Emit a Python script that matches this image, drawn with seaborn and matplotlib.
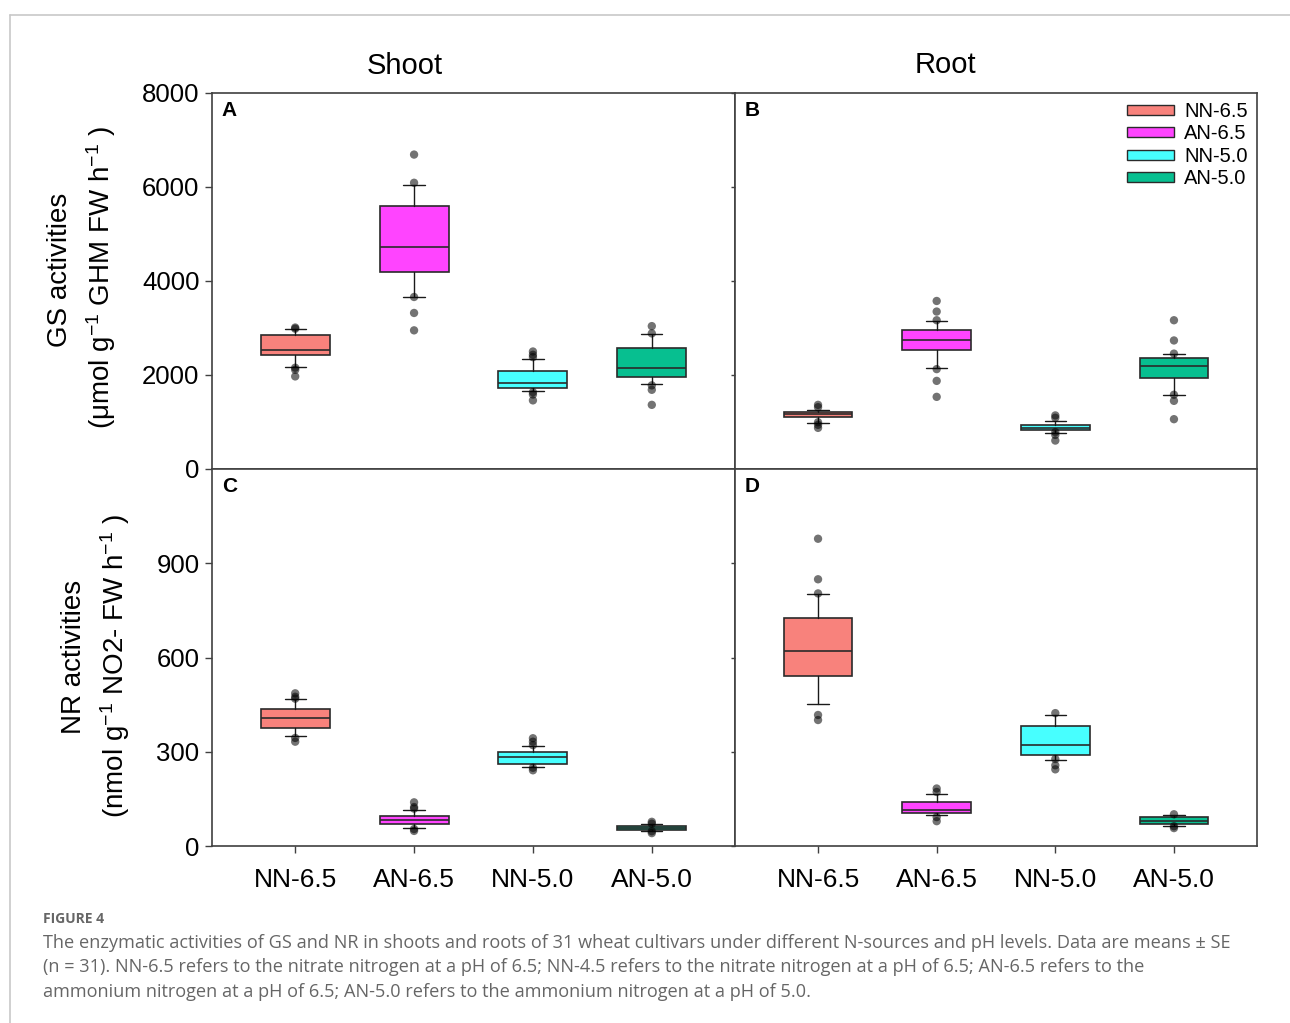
import numpy as np
import pandas as pd
import matplotlib
matplotlib.use("Agg")
import matplotlib.pyplot as plt
from matplotlib.patches import Patch
import seaborn as sns

groups = ["NN-6.5", "AN-6.5", "NN-5.0", "AN-5.0"]
colors = ["#F8827C", "#FF44FF", "#47FFFF", "#07BF90"]

# GS activity, shoot (panel A)
gs_shoot_q1 = [2420, 4200, 1730, 1955]
gs_shoot_med = [2530, 4730, 1840, 2155]
gs_shoot_q3 = [2845, 5600, 2085, 2580]
gs_shoot_wlo = [2175, 3660, 1655, 1800]
gs_shoot_whi = [2970, 6035, 2345, 2870]
gs_shoot_out = [[3010, 2985, 2155, 2110, 1970],
                [6690, 6090, 3660, 3320, 2950],
                [2500, 2430, 2380, 1635, 1585, 1460],
                [3040, 2885, 1780, 1685, 1365]]

# GS activity, root (panel B)
gs_root_q1 = [1115, 2530, 830, 1940]
gs_root_med = [1165, 2745, 880, 2195]
gs_root_q3 = [1215, 2965, 930, 2355]
gs_root_wlo = [980, 2145, 770, 1565]
gs_root_whi = [1250, 3145, 1025, 2445]
gs_root_out = [[1365, 1315, 995, 940, 875],
               [3575, 3350, 3165, 2125, 1875, 1535],
               [1140, 1090, 785, 725, 605],
               [3165, 2735, 2455, 1580, 1450, 1060]]

# NR activity, shoot (panel C)
nr_shoot_q1 = [376, 69, 262, 51]
nr_shoot_med = [409, 83, 284, 57]
nr_shoot_q3 = [435, 97, 298, 64]
nr_shoot_wlo = [350, 56, 252, 48]
nr_shoot_whi = [467, 116, 318, 69]
nr_shoot_out = [[486, 475, 469, 344, 332],
                [139, 124, 119, 54, 48],
                [343, 332, 321, 249, 241],
                [77, 71, 47, 41]]

# NR activity, root (panel D)
nr_root_q1 = [540, 104, 290, 70]
nr_root_med = [621, 115, 320, 80]
nr_root_q3 = [725, 140, 382, 91]
nr_root_wlo = [453, 99, 273, 65]
nr_root_whi = [801, 167, 417, 98]
nr_root_out = [[978, 849, 804, 417, 401],
               [183, 172, 92, 79],
               [423, 277, 257, 244],
               [101, 63, 57]]

gs_ticks = [0, 2000, 4000, 6000, 8000]
nr_ticks = [0, 300, 600, 900]

sns.set_theme(style="white")
plt.rcParams['font.family'] = ['Liberation Sans', 'DejaVu Sans']
plt.rcParams['mathtext.fontset'] = 'custom'
plt.rcParams['mathtext.rm'] = 'Liberation Sans'
plt.rcParams['mathtext.it'] = 'Liberation Sans'
plt.rcParams['mathtext.default'] = 'regular'
plt.rcParams['text.color'] = 'black'
plt.rcParams['xtick.labelcolor'] = 'black'
plt.rcParams['ytick.labelcolor'] = 'black'

fig = plt.figure(figsize=(12.9, 10.23), dpi=100)
fig.patch.set_facecolor('white')

L, M, R = 212/1290, 735/1290, 1257/1290
T, Mid, B = 1-93/1023, 1-469/1023, 1-846/1023
axA = fig.add_axes([L, Mid, M-L, T-Mid])
axB = fig.add_axes([M, Mid, R-M, T-Mid])
axC = fig.add_axes([L, B, M-L, Mid-B])
axD = fig.add_axes([M, B, R-M, Mid-B])

edge = "#2a2a2a"
spine_c = "#404040"


def draw(ax, q1, med, q3, wlo, whi, outs, ylim, ticks, letter, left, bottom):
    stats = [dict(med=med[i], q1=q1[i], q3=q3[i], whislo=wlo[i], whishi=whi[i],
                  fliers=[], label=groups[i]) for i in range(len(groups))]
    bp = ax.bxp(stats, positions=range(len(groups)), widths=0.58, capwidths=0.18,
                patch_artist=True, showfliers=False,
                boxprops=dict(edgecolor=edge, linewidth=1.2),
                medianprops=dict(color=edge, linewidth=1.2),
                whiskerprops=dict(color="#1a1a1a", linewidth=1.0),
                capprops=dict(color="#1a1a1a", linewidth=1.0))
    for patch, c in zip(bp['boxes'], colors):
        patch.set_facecolor(c)
    pts = pd.DataFrame([(i, v) for i, o in enumerate(outs) for v in o], columns=["pos", "value"])
    sns.scatterplot(data=pts, x="pos", y="value", ax=ax, color="black", alpha=0.55,
                    s=36, edgecolor="none", legend=False, zorder=5)
    ax.set_xlim(-0.7, 3.7)
    ax.set_ylim(*ylim)
    ax.set_yticks(ticks)
    ax.set_xticks(range(len(groups)))
    ax.set_xlabel("")
    ax.set_ylabel("")
    for s in ax.spines.values():
        s.set_color(spine_c)
        s.set_linewidth(1.2)
        s.set_visible(True)
    ax.tick_params(axis='both', direction='out', length=5, width=1.0, color=spine_c,
                   labelsize=18.5, pad=4, labelcolor='black')
    if left:
        ax.tick_params(axis='y', left=True, labelleft=True)
    else:
        ax.tick_params(axis='y', left=True, length=3, labelleft=False)
    if bottom:
        ax.set_xticklabels(groups)
        ax.tick_params(axis='x', bottom=True, labelbottom=True, labelsize=19, pad=11)
    else:
        ax.tick_params(axis='x', bottom=False, labelbottom=False)
    ax.text(0.019, 0.978, letter, transform=ax.transAxes, ha='left', va='top',
            fontsize=15, fontweight='bold', color='black')


draw(axA, gs_shoot_q1, gs_shoot_med, gs_shoot_q3, gs_shoot_wlo, gs_shoot_whi, gs_shoot_out,
     (0, 8000), gs_ticks, 'A', True, False)
draw(axB, gs_root_q1, gs_root_med, gs_root_q3, gs_root_wlo, gs_root_whi, gs_root_out,
     (0, 8000), gs_ticks, 'B', False, False)
draw(axC, nr_shoot_q1, nr_shoot_med, nr_shoot_q3, nr_shoot_wlo, nr_shoot_whi, nr_shoot_out,
     (0, 1200), nr_ticks, 'C', True, True)
draw(axD, nr_root_q1, nr_root_med, nr_root_q3, nr_root_wlo, nr_root_whi, nr_root_out,
     (0, 1200), nr_ticks, 'D', False, True)

handles = [Patch(facecolor=c, edgecolor=edge, linewidth=1.0, label=g) for g, c in zip(groups, colors)]
axB.legend(handles=handles, loc='upper right', bbox_to_anchor=(1.0, 1.0), frameon=False,
           fontsize=14.5, handlelength=2.35, handleheight=0.4, labelspacing=0.17,
           handletextpad=0.5, borderaxespad=0.25, borderpad=0.2)

fig.text(405/1290, 1-66/1023, "Shoot", ha='center', va='center', fontsize=21)
fig.text(945/1290, 1-65/1023, "Root", ha='center', va='center', fontsize=21)

fig.text(60/1290, 1-270/1023, "GS activities", rotation=90, ha='center', va='center', fontsize=20)
fig.text(101/1290, 1-277/1023, r"(μmol g$^{-1}$ GHM FW h$^{-1}$ )", rotation=90,
         ha='center', va='center', fontsize=20)
fig.text(74/1290, 1-657/1023, "NR activities", rotation=90, ha='center', va='center', fontsize=20)
fig.text(115/1290, 1-666/1023, r"(nmol g$^{-1}$ NO2- FW h$^{-1}$ )", rotation=90,
         ha='center', va='center', fontsize=20)

# page frame
fig.add_artist(plt.Line2D([10/1290, 1.0], [1-15/1023, 1-15/1023], color="#c8c8c8", lw=1.2))
fig.add_artist(plt.Line2D([10/1290, 10/1290], [0, 1-15/1023], color="#c8c8c8", lw=1.2))

cap_font = ['Open Sans', 'DejaVu Sans']
fig.text(43/1290, 1-919/1023, "FIGURE 4", ha='left', va='center', fontsize=10,
         family=cap_font, fontweight='bold', color="#666666")
cap_lines = [
    "The enzymatic activities of GS and NR in shoots and roots of 31 wheat cultivars under different N-sources and pH levels. Data are means ± SE",
    "(n = 31). NN-6.5 refers to the nitrate nitrogen at a pH of 6.5; NN-4.5 refers to the nitrate nitrogen at a pH of 6.5; AN-6.5 refers to the",
    "ammonium nitrogen at a pH of 6.5; AN-5.0 refers to the ammonium nitrogen at a pH of 5.0.",
]
for k, line in enumerate(cap_lines):
    fig.text(43/1290, 1-(943+24.5*k)/1023, line, ha='left', va='center', fontsize=13.1,
             family=cap_font, color="#666666")

fig.savefig("out.png", dpi=100, facecolor='white')
